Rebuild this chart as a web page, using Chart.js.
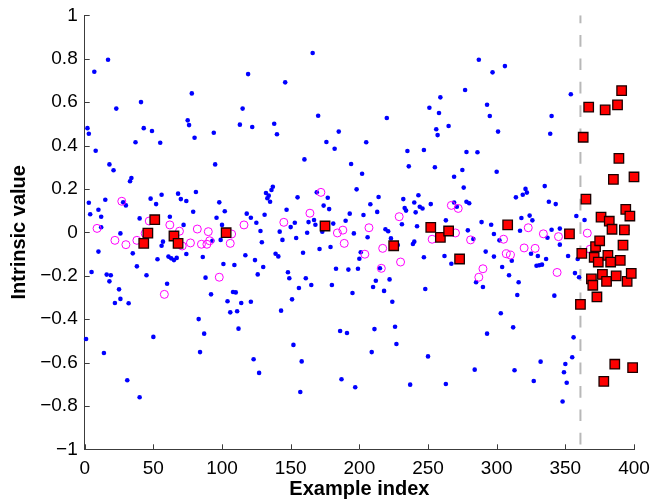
<!DOCTYPE html>
<html>
<head>
<meta charset="utf-8">
<script src="https://cdn.jsdelivr.net/npm/chart.js@4/dist/chart.umd.min.js"></script>
<style>
  html, body { margin: 0; padding: 0; background: #fff; }
  #chart { display: block; }
</style>
</head>
<body>
<canvas id="chart" width="651" height="499"></canvas>
<script>

// [example index, intrinsic value]
const plainPoints = [
    [2,0.48],[3,0.454],[3,0.136],[4,0.083],[7,0.74],[8,0.376],[10,0.104],[12,0.023],[12,0.072],[15,0.15],
    [17,0.795],[18,0.313],[21,0.286],[23,0.57],[26,-0.005],[28,0.138],[30,0.124],[33,0.235],[34,0.25],[37,0.415],
    [40,0.064],[41,0.6],[43,0.48],[48,0.155],[49,0.467],[52,0.13],[55,0.413],[56,0.173],[62,0.072],[68,0.178],
    [70,0.153],[72,0.034],[74,0.144],[75,0.516],[76,0.494],[78,0.64],[79,0.095],[80,0.436],[81,0.186],[94,0.459],
    [95,0.313],[96,0.067],[98,0.138],[100,0.034],
    [10,-0.089],[5,-0.183],[16,-0.195],[19,-0.198],[18,-0.226],[25,-0.263],[26,-0.307],[22,-0.326],[32,-0.327],[35,-0.097],
    [38,-0.157],[45,-0.198],[53,-0.124],[56,-0.062],[57,-0.043],[60,-0.237],[61,-0.112],[63,-0.12],[65,-0.128],[67,-0.118],
    [74,-0.1],[86,-0.114],[88,-0.209],[92,-0.286],[93,-0.039],[99,-0.035],[101,-0.146],[1,-0.492],[14,-0.556],[50,-0.482],
    [83,-0.4],[87,-0.467],[84,-0.552],[31,-0.682],[40,-0.76],
    [166,0.826],[119,0.729],[146,0.691],[115,0.57],[170,0.537],[113,0.496],[122,0.485],[138,0.5],[140,0.452],[185,0.464],
    [176,0.416],[182,0.385],[160,0.336],[194,0.315],[198,0.198],[137,0.21],[136,0.195],[132,0.181],[134,0.169],[133,0.157],
    [135,0.141],[155,0.161],[169,0.184],[177,0.159],[174,0.123],[178,0.107],[102,0.097],[147,0.104],[118,0.086],[121,0.067],
    [131,0.081],[125,0.044],[153,0.044],[150,0.024],[163,0.047],[167,0.057],[168,0.035],[193,0.086],[190,0.053],[181,0.04],
    [128,0.006],[142,0.003],[162,-0.002],[196,-0.005],
    [173,0.003],[129,-0.046],[144,-0.035],[154,-0.026],[171,-0.077],[179,-0.068],[159,-0.094],[139,-0.099],[141,-0.111],[117,-0.106],
    [124,-0.128],[130,-0.16],[109,-0.151],[126,-0.194],[148,-0.184],[149,-0.212],[161,-0.212],[165,-0.243],[156,-0.257],[180,-0.243],
    [183,-0.168],[192,-0.172],[199,-0.168],[200,-0.122],[195,-0.28],[108,-0.275],[110,-0.277],[104,-0.318],[114,-0.326],[121,-0.32],
    [106,-0.369],[111,-0.364],[151,-0.309],[143,-0.361],[112,-0.444],[186,-0.455],[191,-0.464],[152,-0.519],[123,-0.585],[158,-0.595],
    [127,-0.648],[187,-0.677],[197,-0.714],[157,-0.736],
    [287,0.795],[297,0.737],[277,0.656],[259,0.622],[251,0.574],[258,0.55],[293,0.588],[295,0.536],[220,0.527],[256,0.475],
    [257,0.448],[265,0.49],[205,0.415],[235,0.375],[247,0.379],[278,0.37],[286,0.369],[236,0.304],[255,0.3],[275,0.287],
    [269,0.256],[202,0.27],[276,0.206],[214,0.163],[208,0.129],[203,0.08],[213,0.094],[232,0.153],[243,0.171],[240,0.137],
    [233,0.112],[234,0.1],[244,0.118],[246,0.11],[241,0.092],[252,0.13],[269,0.137],[271,0.118],[278,0.141],[280,0.134],
    [231,0.037],[242,0.028],[263,0.055],[289,0.047],[296,0.035],[219,0.014],[221,0.005],[279,0.009],
    [206,-0.023],[223,-0.028],[228,-0.059],[239,-0.054],[240,-0.043],[283,-0.031],[298,-0.008],[201,-0.092],[215,-0.166],[247,-0.115],
    [262,-0.109],[267,-0.145],[292,-0.089],[298,-0.112],[212,-0.223],[222,-0.217],[210,-0.252],[218,-0.27],[248,-0.261],[285,-0.23],
    [290,-0.252],[224,-0.32],[211,-0.446],[226,-0.435],[227,-0.515],[293,-0.467],[209,-0.552],[250,-0.572],[284,-0.633],[237,-0.702],
    [263,-0.699],
    [306,0.766],[354,0.636],[340,0.536],[301,0.464],[339,0.454],[300,0.279],[335,0.213],[321,0.2],[319,0.173],[322,0.183],
    [314,0.161],[338,0.141],[343,0.13],[324,0.077],[318,0.066],[326,0.055],[358,0.075],[364,0.057],[317,0.007],[340,0.012],
    [346,0.017],[395,0.01],
    [302,-0.037],[304,-0.16],[311,-0.131],[309,-0.198],[316,-0.23],[315,-0.289],[303,-0.373],[312,-0.438],[313,-0.636],[325,-0.099],
    [330,-0.109],[336,-0.123],[329,-0.154],[331,-0.152],[333,-0.149],[337,-0.025],[346,-0.057],[352,-0.109],[359,-0.123],[357,-0.188],
    [360,-0.207],[342,-0.292],[356,-0.484],[355,-0.576],[332,-0.596],[350,-0.607],[349,-0.645],[351,-0.693],[327,-0.685],[348,-0.78]
];

const circledPoints = [
    [9,0.018],[27,0.143],[47,0.052],[62,0.034],[69,0.005],[82,0.015],[90,0.003],[22,-0.037],[30,-0.057],[38,-0.037],
    [44,-0.005],[71,-0.063],[77,-0.049],[85,-0.055],[89,-0.055],[91,-0.039],[98,-0.207],[58,-0.286],[107,-0.008],[106,-0.051],
    [116,0.034],[145,0.046],[164,0.088],[172,0.184],[184,-0.003],[188,0.01],[189,-0.051],[207,0.021],[229,0.072],[267,0.124],
    [272,0.11],[270,-0.003],[253,-0.032],[281,-0.035],[217,-0.074],[204,-0.101],[230,-0.137],[216,-0.166],[290,-0.168],[287,-0.207],
    [323,0.021],[334,-0.007],[345,-0.02],[366,-0.004],[305,-0.032],[307,-0.099],[310,-0.105],[320,-0.072],[328,-0.074],[344,-0.185],
    [368,-0.078]
];

const squarePoints = [
    [43,-0.051],[46,-0.004],[51,0.058],[65,-0.017],[68,-0.051],[103,-0.002],[175,0.029],[225,-0.062],[252,0.023],[259,-0.023],
    [265,0.006],[273,-0.123],[308,0.034],[353,-0.007],
    [361,-0.332],[362,-0.097],[363,0.438],[365,0.153],[367,0.577],[369,-0.215],[370,-0.244],[371,-0.115],[372,-0.066],[373,-0.298],
    [374,-0.137],[375,-0.039],[376,0.07],[377,-0.194],[378,-0.687],[379,0.564],[380,-0.226],[381,-0.106],[382,0.051],[383,-0.137],
    [384,0.014],[385,0.244],[386,-0.608],[387,-0.201],[388,0.587],[389,0.341],[390,-0.129],[391,0.653],[392,-0.059],[393,0.011],
    [394,0.106],[395,-0.226],[397,0.075],[398,-0.189],[399,-0.624],[400,0.255]
];

const dividerIndex = 361;

const xTicks = [0, 50, 100, 150, 200, 250, 300, 350, 400];
const yTicks = [-1, -0.8, -0.6, -0.4, -0.2, 0, 0.2, 0.4, 0.6, 0.8, 1];


const toXY = (pairs) => pairs.map(([x, y]) => ({ x: x, y: y }));

const formatTick = (value) => {

    const rounded = Math.round(value * 10) / 10;
    return String(rounded).replace('-', '\u2212');

};

// MATLAB style ticks that point into the plot
const inwardTicks = {
    id: 'inwardTicks',
    afterDraw(chart) {

        const { ctx, chartArea, scales } = chart;
        ctx.save();
        ctx.strokeStyle = '#3c3c3c';
        ctx.lineWidth = 1;
        ctx.beginPath();

        for (const value of xTicks) {
            const px = Math.round(scales.x.getPixelForValue(value)) + 0.5;
            ctx.moveTo(px, chartArea.bottom);
            ctx.lineTo(px, chartArea.bottom - 5);
        }

        for (const value of yTicks) {
            const py = Math.round(scales.y.getPixelForValue(value)) + 0.5;
            ctx.moveTo(chartArea.left, py);
            ctx.lineTo(chartArea.left + 5, py);
        }

        ctx.stroke();
        ctx.restore();

    }
};

const fixX = (scale) => {
    scale.height = 49.7;
    scale.paddingLeft = 0;
    scale.paddingRight = 0;
};

const fixY = (scale) => {
    scale.width = 84.7;
    scale.paddingTop = 0;
    scale.paddingBottom = 0;
};


new Chart(
    document.getElementById('chart'), {
        type: 'scatter',
        data: {
            datasets: [
                {
                    label: 'marked',
                    data: toXY(squarePoints),
                    pointStyle: 'rect',
                    pointRadius: 6.7,
                    backgroundColor: '#ff0000',
                    borderColor: '#1a0000',
                    borderWidth: 1.3,
                    clip: false
                },
                {
                    label: 'circled',
                    data: toXY(circledPoints),
                    pointStyle: 'circle',
                    pointRadius: 4,
                    backgroundColor: 'rgba(0,0,0,0)',
                    borderColor: '#ff00ff',
                    borderWidth: 1,
                    clip: false
                },
                {
                    label: 'plain',
                    data: toXY(plainPoints),
                    pointStyle: 'circle',
                    pointRadius: 2.3,
                    backgroundColor: '#0000ff',
                    borderWidth: 0,
                    clip: false
                },
                {
                    label: 'divider',
                    data: [{ x: dividerIndex, y: 1 }, { x: dividerIndex, y: -1 }],
                    showLine: true,
                    borderColor: '#b8b8b8',
                    borderWidth: 2,
                    borderDash: [11.7, 11.7],
                    borderDashOffset: 3.7,
                    pointRadius: 0
                }
            ]
        },
        options: {
            responsive: false,
            animation: false,
            devicePixelRatio: 1,
            layout: {
                padding: { top: 15.3, right: 17, left: 0, bottom: 0 }
            },
            plugins: {
                legend: { display: false },
                tooltip: { enabled: false }
            },
            scales: {
                x: {
                    type: 'linear',
                    min: 0,
                    max: 400,
                    afterFit: fixX,
                    afterBuildTicks: (scale) => { scale.ticks = xTicks.map(v => ({ value: v })); },
                    grid: { display: false, drawTicks: false },
                    border: { display: true, color: '#3c3c3c', width: 1 },
                    ticks: {
                        padding: 8,
                        color: '#000',
                        maxRotation: 0,
                        font: { family: '"Liberation Sans", Arial, sans-serif', size: 19 },
                        callback: (value) => formatTick(value)
                    },
                    title: {
                        display: true,
                        text: 'Example index',
                        color: '#000',
                        padding: { top: 0, bottom: 0 },
                        font: { family: '"Liberation Sans", Arial, sans-serif', size: 20, weight: 'bold', lineHeight: 1 }
                    }
                },
                y: {
                    type: 'linear',
                    min: -1,
                    max: 1,
                    afterFit: fixY,
                    afterBuildTicks: (scale) => { scale.ticks = yTicks.map(v => ({ value: v })); },
                    grid: { display: false, drawTicks: false },
                    border: { display: true, color: '#3c3c3c', width: 1 },
                    ticks: {
                        padding: 7,
                        color: '#000',
                        font: { family: '"Liberation Sans", Arial, sans-serif', size: 19 },
                        callback: (value) => formatTick(value)
                    },
                    title: {
                        display: true,
                        text: 'Intrinsic value',
                        color: '#000',
                        padding: { top: 9, bottom: 0 },
                        font: { family: '"Liberation Sans", Arial, sans-serif', size: 20, weight: 'bold', lineHeight: 1 }
                    }
                }
            }
        },
        plugins: [inwardTicks]
    }
);

</script>
</body>
</html>
